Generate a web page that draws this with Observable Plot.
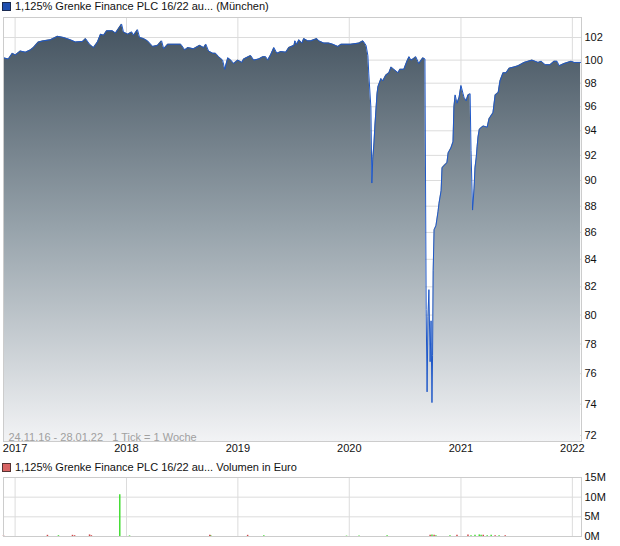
<!DOCTYPE html>
<html>
<head>
<meta charset="utf-8">
<script src="https://cdn.jsdelivr.net/npm/d3@7"></script>
<script src="https://cdn.jsdelivr.net/npm/@observablehq/plot@0.6"></script>
<style>
  html, body { margin: 0; padding: 0; background: #fff; width: 620px; height: 546px; overflow: hidden; }
  body { position: relative; font-family: "Liberation Sans", Arial, sans-serif; font-size: 11px; color: #111; }
  .ttl { position: absolute; left: 2px; white-space: nowrap; font-size: 11px; line-height: 12px; color: #111; }
  .sq { display: inline-block; width: 7px; height: 7px; margin-right: 4px; vertical-align: -1px; border: 1px solid #333; }
  .chart { position: absolute; left: 0; }
</style>
</head>
<body>
<div class="chart" id="c1" style="top:0"></div>
<div class="chart" id="c2" style="top:460px"></div>
<div class="ttl" style="top:0px"><span class="sq" style="background:#1f4fb0;border-color:#1a2a50"></span>1,125% Grenke Finance PLC 16/22 au... (München)</div>
<div class="ttl" style="top:461px"><span class="sq" style="background:#d86464;border-color:#553333"></span>1,125% Grenke Finance PLC 16/22 au... Volumen in Euro</div>
<script>
// ---- data ----
const priceDates = [
"2016-11-24","2016-12-10","2016-12-23","2017-01-02","2017-01-18","2017-02-04","2017-02-20","2017-03-02","2017-03-18","2017-04-04",
"2017-04-27","2017-05-20","2017-06-09","2017-07-01","2017-07-18","2017-08-10","2017-08-20","2017-09-02","2017-09-15","2017-09-28",
"2017-10-08","2017-10-18","2017-10-28","2017-11-16","2017-11-26","2017-12-06","2017-12-16","2017-12-22","2018-01-05","2018-01-18",
"2018-01-24","2018-02-06","2018-02-13","2018-02-26","2018-03-11","2018-03-28","2018-04-13","2018-04-26","2018-05-03","2018-05-16",
"2018-06-28","2018-07-11","2018-07-21","2018-08-09","2018-08-29","2018-09-11","2018-09-18","2018-09-27","2018-10-11","2018-10-20",
"2018-10-30","2018-11-12","2018-11-19","2018-11-29","2018-12-09","2018-12-18","2019-01-01","2019-01-14","2019-01-20","2019-02-12",
"2019-02-22","2019-03-10","2019-03-24","2019-04-02","2019-04-09","2019-04-19","2019-04-29","2019-05-09","2019-05-22","2019-06-07",
"2019-06-17","2019-07-04","2019-07-07","2019-07-13","2019-07-20","2019-07-30","2019-08-05","2019-08-18","2019-08-28","2019-09-17",
"2019-09-23","2019-10-10","2019-10-26","2019-11-08","2019-11-25","2019-12-05","2020-01-06","2020-02-02","2020-02-15","2020-02-25",
"2020-03-02","2020-03-05","2020-03-12","2020-03-15","2020-03-18","2020-03-22","2020-03-25","2020-04-01","2020-04-04","2020-04-14",
"2020-04-20","2020-04-30","2020-05-10","2020-05-17","2020-05-26","2020-06-09","2020-06-15","2020-06-28","2020-07-08","2020-07-15",
"2020-07-21","2020-07-28","2020-08-06","2020-08-16","2020-08-29","2020-09-05","2020-09-09","2020-09-12","2020-09-15","2020-09-18",
"2020-09-22","2020-09-25","2020-09-28","2020-09-30","2020-10-02","2020-10-05","2020-10-11","2020-10-18","2020-10-21","2020-10-28",
"2020-10-31","2020-11-07","2020-11-16","2020-11-20","2020-11-29","2020-12-06","2020-12-09","2020-12-13","2020-12-19","2020-12-26",
"2021-01-01","2021-01-08","2021-01-11","2021-01-18","2021-01-24","2021-01-31","2021-02-03","2021-02-08","2021-02-13","2021-02-16",
"2021-02-20","2021-02-23","2021-02-26","2021-03-02","2021-03-05","2021-03-15","2021-03-28","2021-04-03","2021-04-16","2021-04-23",
"2021-05-03","2021-05-09","2021-05-19","2021-05-29","2021-06-08","2021-06-24","2021-07-07","2021-07-27","2021-08-22","2021-09-11",
"2021-09-21","2021-10-04","2021-10-20","2021-11-02","2021-11-12","2021-11-19","2021-12-05","2021-12-28","2022-01-07","2022-01-20",
"2022-01-28"
];
const priceValues = [
100.2,100.1,100.6,100.45,100.8,100.7,100.9,101.1,101.6,101.7,
101.8,102.1,102.0,101.8,101.6,101.65,101.9,101.4,101.1,101.6,
102.3,102.2,102.6,102.6,102.4,102.8,103.2,102.5,102.3,102.5,
102.2,102.7,102.0,101.9,101.7,101.2,101.3,101.7,101.0,101.4,
101.4,100.9,101.1,101.0,101.3,101.1,101.4,100.8,100.6,100.6,
100.3,100.0,99.2,100.2,100.0,99.7,100.0,99.8,100.1,100.4,
100.0,100.1,100.3,100.3,100.0,100.5,101.1,100.6,100.75,100.7,
101.1,101.3,101.7,101.4,101.8,101.5,101.9,101.7,101.7,101.9,
101.7,101.5,101.5,101.4,101.2,101.4,101.4,101.5,101.7,101.3,
100.4,98.8,95.9,89.8,91.7,93.0,94.4,97.1,97.7,98.4,
98.2,98.7,98.9,99.4,99.2,98.9,99.2,99.2,99.9,100.3,
100.0,100.1,100.3,99.7,100.2,100.1,80.4,74.8,79.9,81.8,
76.8,79.6,74.1,77.2,83.2,86.2,86.5,87.6,88.2,89.2,
91.0,91.2,91.4,92.2,92.6,93.1,96.0,97.0,96.3,96.8,
97.8,97.1,96.8,96.5,97.0,97.1,92.4,87.7,89.4,91.0,
91.8,92.7,93.5,94.1,94.2,94.4,94.3,95.0,95.5,97.0,
97.2,98.2,98.9,98.9,99.3,99.4,99.5,99.8,100.0,99.8,
99.9,99.6,99.6,99.9,99.9,99.5,99.7,99.9,99.8,99.8,
99.8
];
const volDates = [
"2016-11-24","2017-04-17","2017-05-23","2017-07-08","2017-07-15","2017-09-02","2017-09-08","2017-12-10","2018-01-11","2018-10-01",
"2018-10-04","2019-02-02","2019-03-27","2019-12-23","2020-02-02","2020-05-04","2020-09-22","2020-09-28","2020-10-05","2020-10-11",
"2020-11-26","2020-12-19","2021-01-24","2021-02-03","2021-02-16","2021-03-02","2021-03-08","2021-03-15","2021-03-28","2021-04-10",
"2021-04-23","2021-05-06","2021-05-26"
];
const volValues = [
0.2e6,0.3e6,0.2e6,0.3e6,0.2e6,0.4e6,0.2e6,10.6e6,0.15e6,0.3e6,
0.2e6,0.3e6,0.2e6,0.1e6,0.15e6,0.2e6,0.3e6,0.4e6,0.3e6,0.2e6,
0.2e6,0.3e6,0.4e6,0.2e6,0.3e6,0.4e6,0.3e6,0.3e6,0.2e6,0.3e6,
0.2e6,0.2e6,0.2e6
];
const volUp = [
0,0,1,0,0,0,0,1,1,0,
1,0,1,1,1,1,0,1,0,1,
1,0,0,1,1,1,1,0,1,1,
0,1,0
];
const yearTickLabels = ["2017","2018","2019","2020","2021","2022"];
const priceTicks = [72,74,76,78,80,82,84,86,88,90,92,94,96,98,100,102];
const volTicks = [0,5e6,10e6,15e6];
const rangeLabel = "24.11.16 - 28.01.22\u00a0\u00a0\u00a01 Tick = 1 Woche";

// ---- build ----
const prices = priceDates.map((d, i) => ({date: new Date(d), value: priceValues[i]}));
const vols = volDates.map((d, i) => ({date: new Date(d), vol: volValues[i], up: volUp[i]}));
const yearTicks = yearTickLabels.map(y => new Date(y + "-01-01"));
const xDomain = [new Date("2016-11-24"), new Date("2022-01-31")];
const yDomain = [71.62, 103.8];
const font = {fontFamily: "'Liberation Sans', Arial, sans-serif", fontSize: "11px", color: "#111", background: "transparent"};

const p1 = Plot.plot({
  width: 620, height: 460,
  marginTop: 17, marginBottom: 19, marginLeft: 3, marginRight: 39,
  style: font,
  x: {type: "utc", domain: xDomain, ticks: yearTicks, tickFormat: d3.utcFormat("%Y"), tickSize: 0, tickPadding: 3, label: null},
  y: {type: "log", domain: yDomain, ticks: priceTicks, tickFormat: d => String(d), axis: "right", tickSize: 0, tickPadding: 3, label: null},
  marks: [
    Plot.gridY(priceTicks, {stroke: "#dcdcdc", strokeOpacity: 1}),
    Plot.gridX(yearTicks, {stroke: "#dcdcdc", strokeOpacity: 1}),
    Plot.areaY(prices, {x: "date", y1: yDomain[0], y2: "value", fill: "url(#pg)"}),
    Plot.lineY(prices, {x: "date", y: "value", stroke: "#1f58c8", strokeWidth: 1}),
    Plot.text([rangeLabel], {text: d => d, frameAnchor: "bottom-left", textAnchor: "start", lineAnchor: "bottom", dx: 5, dy: -1, fill: "#a0a0a0", fontSize: 11}),
    Plot.frame({stroke: "#cccccc"})
  ]
});
const ns = "http://www.w3.org/2000/svg";
const defs = document.createElementNS(ns, "defs");
const lg = document.createElementNS(ns, "linearGradient");
lg.setAttribute("id", "pg");
lg.setAttribute("gradientUnits", "userSpaceOnUse");
lg.setAttribute("x1", "0"); lg.setAttribute("x2", "0");
lg.setAttribute("y1", "17"); lg.setAttribute("y2", "441");
[["0", "#41505d"], ["0.5", "#97a3ab"], ["1", "#f2f3f5"]].forEach(([o, c]) => {
  const s = document.createElementNS(ns, "stop");
  s.setAttribute("offset", o); s.setAttribute("stop-color", c);
  lg.appendChild(s);
});
defs.appendChild(lg);
p1.insertBefore(defs, p1.firstChild);
document.getElementById("c1").appendChild(p1);

const p2 = Plot.plot({
  width: 620, height: 86,
  marginTop: 17, marginBottom: 10, marginLeft: 3, marginRight: 39,
  style: font,
  x: {type: "utc", domain: xDomain, axis: null},
  y: {domain: [0, 15e6], ticks: volTicks, tickFormat: d => (d / 1e6) + "M", axis: "right", tickSize: 0, tickPadding: 3, label: null},
  marks: [
    Plot.gridY(volTicks, {stroke: "#dcdcdc", strokeOpacity: 1}),
    Plot.gridX(yearTicks, {stroke: "#dcdcdc", strokeOpacity: 1}),
    Plot.ruleX(vols, {filter: d => d.up, x: "date", y1: 0, y2: "vol", stroke: "#44dd33", strokeWidth: 1.5}),
    Plot.ruleX(vols, {filter: d => !d.up, x: "date", y1: 0, y2: "vol", stroke: "#d04848", strokeWidth: 1.5}),
    Plot.frame({stroke: "#cccccc"})
  ]
});
document.getElementById("c2").appendChild(p2);
</script>
</body>
</html>
